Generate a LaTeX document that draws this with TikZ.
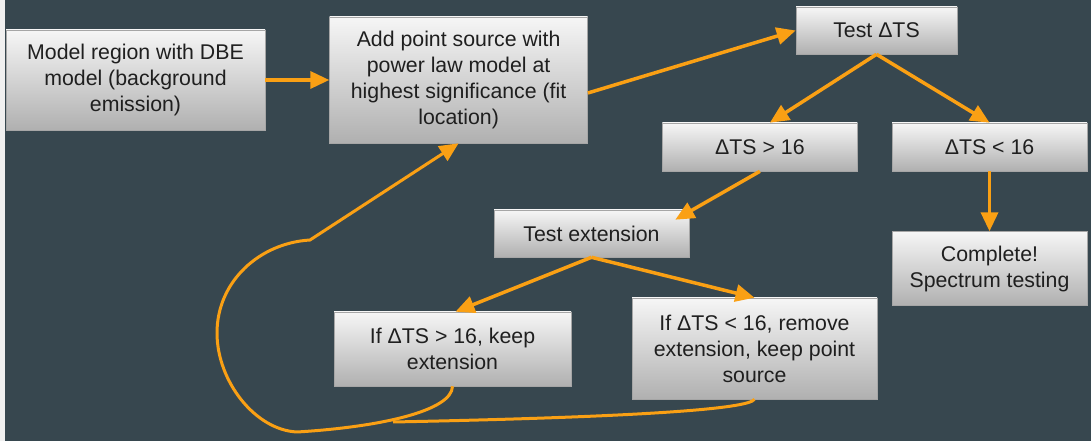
\documentclass[tikz,border=0pt]{standalone}
\usepackage{fontspec}
\setmainfont{Liberation Sans}
\usepackage{xcolor}
\usetikzlibrary{arrows.meta, positioning, calc}

\definecolor{slate}{RGB}{55,71,79}
\definecolor{flowor}{RGB}{250,160,20}
\definecolor{boxtop}{RGB}{246,246,246}
\definecolor{boxbot}{RGB}{176,176,176}

\begin{document}
\begin{tikzpicture}[
    x=1pt, y=1pt,
    stepbox/.style={rectangle, draw=black!35, line width=0.6pt, top color=boxtop, bottom color=boxbot,
        align=center, inner sep=2pt, text=black!88,
        font=\fontsize{21.3}{26}\selectfont},
    arrow/.style={-{Triangle[length=19pt, width=17pt]}, line width=3.5pt, flowor},
    loop/.style={line width=3pt, flowor}
]
    \useasboundingbox (0,0) rectangle (1091,441);
    \fill[white!94!black] (0,0) rectangle (1091,441);
    \fill[slate] (5,0) rectangle (1091,441);

    \node[stepbox, minimum width=259pt, minimum height=100pt] (model) at (135.5,361)
        {Model region with DBE\\model (background\\emission)};
    \node[stepbox, minimum width=258pt, minimum height=126pt, right=64pt of model] (addps)
        {Add point source with\\power law model at\\highest significance (fit\\location)};
    \node[stepbox, minimum width=161pt, minimum height=47pt] (test) at (876.5,410.5) {Test ΔTS};
    \node[stepbox, minimum width=195pt, minimum height=48pt] (lt) at (989.5,294) {ΔTS < 16};
    \node[stepbox, minimum width=195pt, minimum height=48pt, left=34pt of lt] (gt) {ΔTS > 16};
    \node[stepbox, minimum width=195pt, minimum height=74pt, below=60pt of lt] (done)
        {Complete!\\Spectrum testing};
    \node[stepbox, minimum width=195pt, minimum height=47pt] (ext) at (591.5,207.5) {Test extension};
    \node[stepbox, minimum width=237pt, minimum height=74pt] (keep) at (452.5,92)
        {If ΔTS > 16, keep\\extension};
    \node[stepbox, minimum width=245pt, minimum height=101pt] (remove) at (754.5,92.5)
        {If ΔTS < 16, remove\\extension, keep point\\source};

    \coordinate (low) at (297,9);
    \coordinate (side) at (217,108);
    \coordinate (bend) at (310,201);
    \coordinate (join) at (393,19);

    \draw[arrow] (model) -- (addps);
    \draw[arrow] ($(addps.east)+(0,-13)$) -- (test.west);
    \draw[arrow] (test.south) -- ($(gt.north)+(10,0)$);
    \draw[arrow] (test.south) -- (lt.north);
    \draw[arrow] (lt) -- (done);
    \draw[arrow] (gt.south) -- ($(ext.north east)+(-14,-10)$);
    \draw[arrow] (ext.south) -- ($(keep.north)+(3,0)$);
    \draw[arrow] (ext.south) -- (remove.north);

    % back to the point source
    \draw[loop, line join=round, -{Triangle[length=19pt, width=17pt]}]
        (keep.south) .. controls (452,30) and (380,14) .. (low)
        .. controls (255,11) and (217,60) .. (side)
        .. controls (217,160) and (260,198) .. (bend) -- (addps.south);
    \draw[loop] (remove.south) .. controls (748,32) and (640,24) .. (join);
\end{tikzpicture}
\end{document}
